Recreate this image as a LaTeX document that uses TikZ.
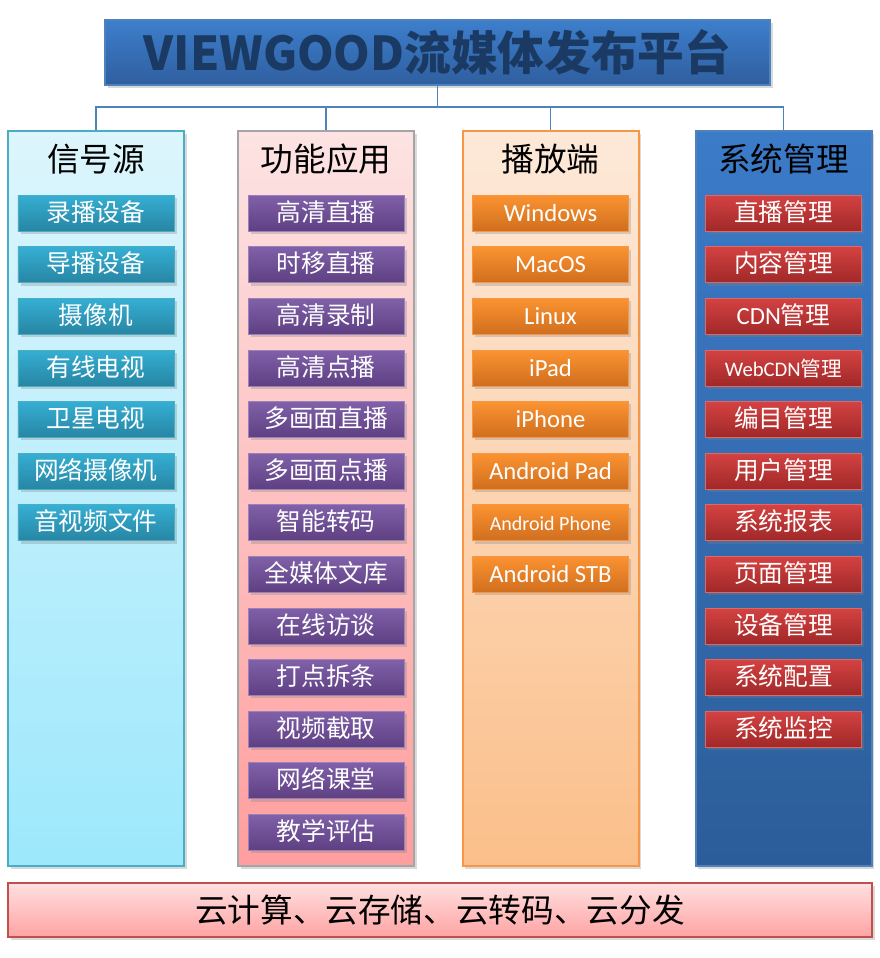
\documentclass[tikz,border=0pt]{standalone}
\usepackage{fontspec}
\setmainfont{Noto Sans CJK SC}
\newfontfamily\lat{Carlito}
\usetikzlibrary{positioning, shadows, matrix}

\definecolor{linkblue}{HTML}{4F81BD}
\definecolor{titletop}{HTML}{3D7FCC}
\definecolor{titlebot}{HTML}{2F5E9F}
\definecolor{titletext}{HTML}{1B3A63}
\definecolor{srctop}{HTML}{DDF5FC}
\definecolor{srcbot}{HTML}{9DE8FC}
\definecolor{srcline}{HTML}{4BACC6}
\definecolor{srcitemtop}{HTML}{35AFD3}
\definecolor{srcitembot}{HTML}{2785A3}
\definecolor{apptop}{HTML}{FDE3E3}
\definecolor{appbot}{HTML}{FF9E9E}
\definecolor{appline}{HTML}{A5A5A5}
\definecolor{appitemtop}{HTML}{8061A9}
\definecolor{appitembot}{HTML}{5E3F82}
\definecolor{playtop}{HTML}{FDE9D9}
\definecolor{playbot}{HTML}{FBBF8A}
\definecolor{playline}{HTML}{F79646}
\definecolor{playitemtop}{HTML}{FB9331}
\definecolor{playitembot}{HTML}{D06E1E}
\definecolor{mgmttop}{HTML}{3B7BC8}
\definecolor{mgmtbot}{HTML}{2C5D99}
\definecolor{mgmtitemtop}{HTML}{D44242}
\definecolor{mgmtitembot}{HTML}{A02828}
\definecolor{cloudtop}{HTML}{FFE0E0}
\definecolor{cloudbot}{HTML}{FFA3A3}
\definecolor{cloudline}{HTML}{C0504D}

\tikzset{
  softshadow/.style={drop shadow={opacity=0.3, shadow xshift=2pt, shadow yshift=-2pt}},
  colbox/.style={draw, line width=1.5pt, minimum width=132pt, minimum height=551pt, softshadow},
  headtext/.style={font=\fontsize{24.5pt}{26pt}\selectfont, inner sep=0pt},
  itembox/.style={draw, line width=0.6pt, minimum width=117pt, minimum height=27pt, inner sep=0pt,
    text height=15pt, text depth=3pt,
    text=white, font=\fontsize{18.5pt}{20pt}\selectfont, softshadow},
  itemlist/.style={matrix of nodes, row sep=11.1pt, anchor=north},
  conn/.style={draw=linkblue, line width=1.2pt},
}

\begin{document}
\begin{tikzpicture}[x=0.75pt, y=-0.75pt]
    \useasboundingbox (0,0) rectangle (880,958);

    % title
    \node[draw=linkblue, line width=0.8pt, top color=titletop, bottom color=titlebot,
      minimum width=498.75pt, minimum height=48.75pt, softshadow,
      text=titletext, font=\fontsize{35pt}{38pt}\selectfont\bfseries] (title) at (437.5,52.5) {VIEWGOOD流媒体发布平台};

    % columns
    \node[colbox, draw=srcline, top color=srctop, bottom color=srcbot] (src) at (96,498.5) {};
    \node[colbox, draw=appline, top color=apptop, bottom color=appbot] (app) at (326,498.5) {};
    \node[colbox, draw=playline, top color=playtop, bottom color=playbot] (play) at (550.5,498.5) {};
    \node[colbox, draw=linkblue, top color=mgmttop, bottom color=mgmtbot] (mgmt) at (783.5,498.5) {};

    \node[headtext] (srchead) at ([yshift=-21.75pt]src.north) {信号源};
    \node[headtext] (apphead) at ([yshift=-21.75pt]app.north) {功能应用};
    \node[headtext] (playhead) at ([yshift=-21.75pt]play.north) {播放端};
    \node[headtext] (mgmthead) at ([yshift=-21.75pt]mgmt.north) {系统管理};

    % connectors
    \coordinate (bus) at (437.5,107);
    \draw[conn] (title.south) -- (bus);
    \draw[conn] (bus) -| (src.north);
    \draw[conn] (bus) -| (app.north);
    \draw[conn] (bus) -| (play.north);
    \draw[conn] (bus) -| (mgmt.north);

    % item lists
    \matrix (srclist) [itemlist, nodes={itembox, draw=srcline, top color=srcitemtop, bottom color=srcitembot}]
      at ([yshift=-45pt]src.north) {
      录播设备 \\ 导播设备 \\ 摄像机 \\ 有线电视 \\ 卫星电视 \\ 网络摄像机 \\ 音视频文件 \\
    };
    \matrix (applist) [itemlist, nodes={itembox, draw=appitemtop!80!white, top color=appitemtop, bottom color=appitembot}]
      at ([yshift=-45pt]app.north) {
      高清直播 \\ 时移直播 \\ 高清录制 \\ 高清点播 \\ 多画面直播 \\ 多画面点播 \\ 智能转码 \\
      全媒体文库 \\ 在线访谈 \\ 打点拆条 \\ 视频截取 \\ 网络课堂 \\ 教学评估 \\
    };
    \matrix (playlist) [itemlist, nodes={itembox, draw=playline, top color=playitemtop, bottom color=playitembot,
        font=\lat\fontsize{18.5pt}{20pt}\selectfont}]
      at ([yshift=-45pt]play.north) {
      Windows \\ MacOS \\ Linux \\ iPad \\ iPhone \\ Android Pad \\
      |[font=\lat\fontsize{15pt}{16pt}\selectfont]| Android Phone \\ Android STB \\
    };
    \matrix (mgmtlist) [itemlist, nodes={itembox, draw=mgmtitemtop!80!white, top color=mgmtitemtop, bottom color=mgmtitembot}]
      at ([yshift=-45pt]mgmt.north) {
      直播管理 \\ 内容管理 \\ {\lat CDN}管理 \\
      |[font=\fontsize{15.5pt}{17pt}\selectfont]| {\lat WebCDN}管理 \\
      编目管理 \\ 用户管理 \\ 系统报表 \\ 页面管理 \\ 设备管理 \\ 系统配置 \\ 系统监控 \\
    };

    % base layer
    \node[draw=cloudline, line width=1.5pt, top color=cloudtop, bottom color=cloudbot,
      minimum width=648pt, minimum height=40.5pt, softshadow,
      font=\fontsize{24.5pt}{26pt}\selectfont] (cloud) at (440,910) {云计算、云存储、云转码、云分发};
\end{tikzpicture}
\end{document}
